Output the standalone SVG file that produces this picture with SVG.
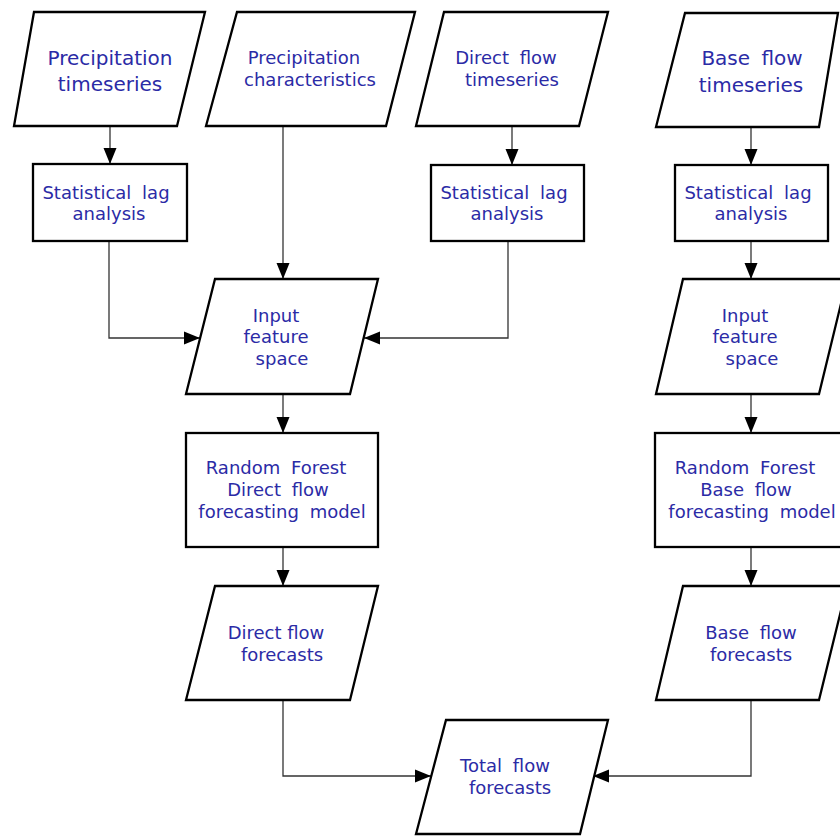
<svg xmlns="http://www.w3.org/2000/svg" width="840" height="839" viewBox="0 0 840 839">
<style>
.s{fill:#fff;stroke:#000;stroke-width:2.3;stroke-linejoin:miter}
.t{font-family:"DejaVu Sans","Liberation Sans",sans-serif;font-size:18px;fill:#2b2ba6;text-anchor:middle}
.b{font-size:20px}
.w{word-spacing:5px}
.c{fill:none;stroke:#333;stroke-width:1.3}
</style>
<defs>
<marker id="a" markerUnits="userSpaceOnUse" markerWidth="16" markerHeight="14" refX="16" refY="7" orient="auto">
<path d="M0,0.5 L16,7 L0,13.5 z" fill="#000"/>
</marker>
</defs>
<rect width="840" height="839" fill="#fff"/>
<g id="connectors" marker-end="url(#a)">
<path class="c" d="M110,126 V164"/>
<path class="c" d="M283,126 V279"/>
<path class="c" d="M512,126 V165"/>
<path class="c" d="M751,127 V165"/>
<path class="c" d="M109,241 V338 H200"/>
<path class="c" d="M508,241 V338 H364"/>
<path class="c" d="M751,241 V279"/>
<path class="c" d="M283,394 V433"/>
<path class="c" d="M751,394 V433"/>
<path class="c" d="M283,547 V586"/>
<path class="c" d="M751,547 V586"/>
<path class="c" d="M283,700 V776 H431"/>
<path class="c" d="M751,700 V776 H593"/>
</g>
<g id="precip-ts">
<polygon class="s" points="34,12 205,12 177,126 14,126"/>
<text class="t b" x="110" y="65">Precipitation</text>
<text class="t b" x="110" y="91">timeseries</text>
</g>
<g id="precip-char">
<polygon class="s" points="237,12 415,12 386,126 206,126"/>
<text class="t" x="304" y="64">Precipitation</text>
<text class="t" x="310" y="86">characteristics</text>
</g>
<g id="direct-ts">
<polygon class="s" points="444,12 608,12 579,126 416,126"/>
<text class="t w" x="506" y="64">Direct flow</text>
<text class="t" x="512" y="86">timeseries</text>
</g>
<g id="base-ts">
<polygon class="s" points="685,13 838,13 819,127 656,127"/>
<text class="t b w" x="752" y="65">Base flow</text>
<text class="t b" x="751" y="92">timeseries</text>
</g>
<g id="lag1">
<rect class="s" x="33" y="164" width="154" height="77"/>
<text class="t w" x="106" y="199">Statistical lag</text>
<text class="t" x="109" y="220">analysis</text>
</g>
<g id="lag2">
<rect class="s" x="431" y="165" width="153" height="76"/>
<text class="t w" x="504" y="199">Statistical lag</text>
<text class="t" x="507" y="220">analysis</text>
</g>
<g id="lag3">
<rect class="s" x="675" y="165" width="153" height="76"/>
<text class="t w" x="748" y="199">Statistical lag</text>
<text class="t" x="751" y="220">analysis</text>
</g>
<g id="ifs1">
<polygon class="s" points="215,279 378,279 350,394 186,394"/>
<text class="t" x="276" y="322">Input</text>
<text class="t" x="276" y="343">feature</text>
<text class="t" x="282" y="365">space</text>
</g>
<g id="ifs2">
<polygon class="s" points="683,279 847,279 819,394 656,394"/>
<text class="t" x="745" y="322">Input</text>
<text class="t" x="745" y="343">feature</text>
<text class="t" x="752" y="365">space</text>
</g>
<g id="rf1">
<rect class="s" x="186" y="433" width="192" height="114"/>
<text class="t w" x="276" y="474">Random Forest</text>
<text class="t w" x="278" y="496">Direct flow</text>
<text class="t w" x="282" y="518">forecasting model</text>
</g>
<g id="rf2">
<rect class="s" x="655" y="433" width="192" height="114"/>
<text class="t w" x="745" y="474">Random Forest</text>
<text class="t w" x="746" y="496">Base flow</text>
<text class="t w" x="752" y="518">forecasting model</text>
</g>
<g id="dff">
<polygon class="s" points="215,586 378,586 350,700 186,700"/>
<text class="t" x="276" y="639">Direct flow</text>
<text class="t" x="282" y="661">forecasts</text>
</g>
<g id="bff">
<polygon class="s" points="683,586 847,586 819,700 656,700"/>
<text class="t w" x="751" y="639">Base flow</text>
<text class="t" x="751" y="661">forecasts</text>
</g>
<g id="tff">
<polygon class="s" points="446,720 608,720 580,834 416,834"/>
<text class="t w" x="505" y="772">Total flow</text>
<text class="t" x="510" y="794">forecasts</text>
</g>
</svg>
